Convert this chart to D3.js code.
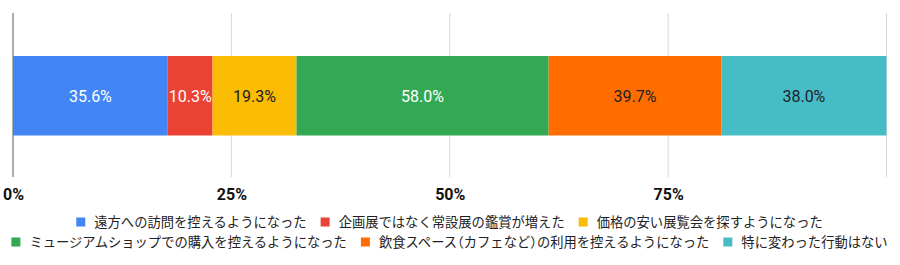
<!DOCTYPE html>
<html><head><meta charset="utf-8">
<script src="https://cdn.jsdelivr.net/npm/d3@7"></script>
<style>
html,body{margin:0;padding:0;background:#fff;}
svg{display:block;font-family:Roboto,"Liberation Sans",Arial,sans-serif;}
.hp{font-feature-settings:"halt" 1;}
</style></head>
<body><svg id="c" width="900" height="265"></svg>
<script>
const categories = ["遠方への訪問を控えるようになった","企画展ではなく常設展の鑑賞が増えた","価格の安い展覧会を探すようになった","ミュージアムショップでの購入を控えるようになった","飲食スペース（カフェなど）の利用を控えるようになった","特に変わった行動はない"];
const values = [35.6, 10.3, 19.3, 58.0, 39.7, 38.0];
const colors = ["#4285F4","#EA4335","#FBBC04","#34A853","#FF6D01","#46BDC6"];
const labelColors = ["#ffffff","#ffffff","#202124","#ffffff","#202124","#202124"];
const tickValues = [0, 0.25, 0.5, 0.75, 1];
const tickLabels = ["0%","25%","50%","75%",""];
const legendRows = [[0,1,2],[3,4,5]];

const svg = d3.select("#c");
const x = d3.scaleLinear().domain([0,1]).range([13, 886.5]);

const row = {key:"row"};
categories.forEach((c,i)=>row[c]=values[i]);
const series = d3.stack().keys(categories).offset(d3.stackOffsetExpand)([row]);

// gridlines
svg.append("g").selectAll("line").data(tickValues.slice(1)).join("line")
  .attr("x1",d=>x(d)).attr("x2",d=>x(d)).attr("y1",13).attr("y2",177)
  .attr("stroke","#d9d9d9").attr("stroke-width",1);

// bars
const bh = 79.5, by = 56;
svg.append("g").selectAll("rect").data(series).join("rect")
  .attr("x",d=>x(d[0][0])).attr("width",d=>x(d[0][1])-x(d[0][0]))
  .attr("y",by).attr("height",bh)
  .attr("fill",(d,i)=>colors[i]);

// baseline
svg.append("line").attr("x1",x(0)).attr("x2",x(0)).attr("y1",13).attr("y2",177)
  .attr("stroke","#777").attr("stroke-width",1.2);

// value labels
svg.append("g").selectAll("text").data(series).join("text")
  .attr("x",d=>(x(d[0][0])+x(d[0][1]))/2).attr("y",by+bh/2)
  .attr("dy","0.36em").attr("text-anchor","middle")
  .attr("font-size","16px").attr("fill",(d,i)=>labelColors[i])
  .text((d,i)=>values[i].toFixed(1)+"%");

// axis labels
const axis = d3.axisBottom(x).tickValues(tickValues).tickFormat((d,i)=>tickLabels[i]).tickSize(0).tickPadding(0);
const ag = svg.append("g").attr("transform","translate(0,189)").call(axis);
ag.select(".domain").remove();
ag.selectAll("text").attr("font-size","16px").attr("font-weight","bold").attr("fill","#111")
  .attr("font-family","Roboto,'Liberation Sans',Arial,sans-serif");

// legend
const sq = 9, gapT = 9, gapI = 14, cx = 449.5;
const rowY = [222, 242];
legendRows.forEach((idxs,r)=>{
  const g = svg.append("g");
  const items = g.selectAll("g").data(idxs).join("g");
  items.append("rect").attr("width",sq).attr("height",sq).attr("y",-sq/2).attr("fill",i=>colors[i]);
  const t = items.append("text").attr("x",sq+gapT).attr("dy","0.35em")
    .attr("font-size","13.3px").attr("fill","#222")
    .attr("font-family","'Noto Sans CJK JP',sans-serif");
  t.each(function(i){
    const parts = categories[i].split(/([（）])/).filter(s=>s.length);
    d3.select(this).selectAll("tspan").data(parts).join("tspan")
      .attr("class",s=>/[（）]/.test(s)?"hp":null).text(s=>s);
  });
  let pos = 0; const offs=[];
  items.each(function(){ offs.push(pos); const w = sq+gapT+this.querySelector("text").getComputedTextLength(); pos += w + gapI; });
  const total = pos - gapI;
  items.attr("transform",(d,k)=>`translate(${offs[k]},0)`);
  g.attr("transform",`translate(${cx-total/2},${rowY[r]})`);
});
</script></body></html>
